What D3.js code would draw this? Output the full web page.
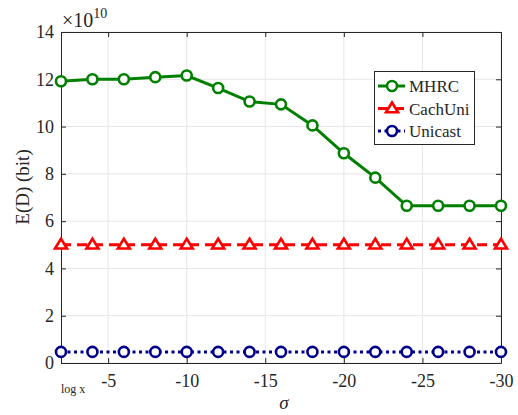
<!DOCTYPE html>
<html>
<head>
<meta charset="utf-8">
<script src="https://cdn.jsdelivr.net/npm/d3@7"></script>
</head>
<body style="margin:0;background:#fff">
<svg id="chart" width="518" height="415" font-family="Liberation Serif"></svg>
<script>
// sigma values (dB) and expected delay E(D) in units of 1e10 bit
const sigma = [-2, -4, -6, -8, -10, -12, -14, -16, -18, -20, -22, -24, -26, -28, -30];
const mhrc = [11.92, 12.0, 12.0, 12.09, 12.16, 11.63, 11.06, 10.94, 10.05, 8.87, 7.84, 6.65, 6.65, 6.65, 6.65];
const cachUni = [5.0, 5.0, 5.0, 5.0, 5.0, 5.0, 5.0, 5.0, 5.0, 5.0, 5.0, 5.0, 5.0, 5.0, 5.0];
const unicast = [0.47, 0.47, 0.47, 0.47, 0.47, 0.47, 0.47, 0.47, 0.47, 0.47, 0.47, 0.47, 0.47, 0.47, 0.47];
const xTicks = [-5, -10, -15, -20, -25, -30];
const yTicks = [0, 2, 4, 6, 8, 10, 12, 14];
const seriesNames = ["MHRC", "CachUni", "Unicast"];

const FONT = "'Liberation Serif', 'Times New Roman', serif";
const svg = d3.select("#chart");
const m = { left: 61, right: 501, top: 32, bottom: 363 };

const x = d3.scaleLinear().domain([-2, -30]).range([m.left, m.right]);
const y = d3.scaleLinear().domain([0, 14]).range([m.bottom, m.top]);

const axisColor = "#262626";
const gridColor = "#e6e6e6";

// set a serif face on any text node
function serif(sel, size) {
  return sel.attr("font-family", "Liberation Serif").attr("font-size", size)
    .style("font-family", FONT).style("font-size", size + "px");
}

// grid
const grid = svg.append("g");
grid.selectAll(".gx").data(xTicks).join("line")
  .attr("x1", d => x(d)).attr("x2", d => x(d))
  .attr("y1", m.top).attr("y2", m.bottom)
  .attr("stroke", gridColor).attr("stroke-width", 1);
grid.selectAll(".gy").data(yTicks).join("line")
  .attr("x1", m.left).attr("x2", m.right)
  .attr("y1", d => y(d)).attr("y2", d => y(d))
  .attr("stroke", gridColor).attr("stroke-width", 1);

// box axes with inward ticks
const tickLen = 5;
const fmt = d => String(d);
const bottomAxis = d3.axisBottom(x).tickValues(xTicks).tickSizeInner(-tickLen).tickSizeOuter(0).tickPadding(11).tickFormat(fmt);
const leftAxis = d3.axisLeft(y).tickValues(yTicks).tickSizeInner(-tickLen).tickSizeOuter(0).tickPadding(7).tickFormat(fmt);
const topAxis = d3.axisTop(x).tickValues(xTicks).tickSizeInner(-tickLen).tickSizeOuter(0).tickFormat("");
const rightAxis = d3.axisRight(y).tickValues(yTicks).tickSizeInner(-tickLen).tickSizeOuter(0).tickFormat("");

function styleAxis(g) {
  serif(g, 18);
  g.select(".domain").attr("stroke", axisColor).attr("stroke-width", 1);
  g.selectAll(".tick line").attr("stroke", axisColor);
  serif(g.selectAll(".tick text"), 18).attr("fill", axisColor);
}

svg.append("g").attr("transform", `translate(0,${m.bottom})`).call(bottomAxis).call(styleAxis);
svg.append("g").attr("transform", `translate(${m.left},0)`).call(leftAxis).call(styleAxis);
svg.append("g").attr("transform", `translate(0,${m.top})`).call(topAxis).call(styleAxis);
svg.append("g").attr("transform", `translate(${m.right},0)`).call(rightAxis).call(styleAxis);

// exponent label
const expo = serif(svg.append("text"), 20).attr("x", 62).attr("y", 27).attr("fill", axisColor);
expo.append("tspan").text("\u00d710");
expo.append("tspan").attr("dy", -9).style("font-size", "14px").text("10");

// small note under the left end of the x axis
serif(svg.append("text"), 12).attr("x", 61).attr("y", 393).attr("fill", axisColor).text("log x");

// axis titles
serif(svg.append("text"), 19)
  .attr("transform", "translate(29,187) rotate(-90)")
  .attr("text-anchor", "middle").attr("fill", axisColor)
  .text("E(D) (bit)");
serif(svg.append("text"), 19)
  .attr("x", (m.left + m.right) / 2 + 3).attr("y", 409)
  .attr("text-anchor", "middle").attr("fill", axisColor)
  .style("font-style", "italic").text("\u03c3");

// series
const series = [
  { name: seriesNames[0], values: mhrc, color: "#008000", dash: null, marker: "circle" },
  { name: seriesNames[1], values: cachUni, color: "#ff0000", dash: "10,6", marker: "triangle" },
  { name: seriesNames[2], values: unicast, color: "#00008b", dash: "3,3.5", marker: "circle" }
];

const line = d3.line().x(d => x(d[0])).y(d => y(d[1]));
const lw = 3;

function drawMarker(g, type, cx, cy, color) {
  if (type === "circle") {
    g.append("circle").attr("cx", cx).attr("cy", cy).attr("r", 5)
      .attr("fill", "#fff").attr("stroke", color).attr("stroke-width", 2.6);
  } else {
    const s = 6;
    g.append("path")
      .attr("d", `M${cx},${cy - s} L${cx + s},${cy + s * 0.62} L${cx - s},${cy + s * 0.62} Z`)
      .attr("fill", "#fff").attr("stroke", color).attr("stroke-width", 2.6);
  }
}

const plot = svg.append("g");
series.forEach(s => {
  const pts = sigma.map((v, i) => [v, s.values[i]]);
  plot.append("path").attr("d", line(pts)).attr("fill", "none")
    .attr("stroke", s.color).attr("stroke-width", lw)
    .attr("stroke-dasharray", s.dash);
  pts.forEach(p => drawMarker(plot, s.marker, x(p[0]), y(p[1]), s.color));
});

// legend
const lg = svg.append("g");
lg.append("rect").attr("x", 374.5).attr("y", 71.5).attr("width", 100).attr("height", 73)
  .attr("fill", "#fff").attr("stroke", axisColor).attr("stroke-width", 1);
series.forEach((s, i) => {
  const ly = 86 + i * 22.5;
  lg.append("line").attr("x1", 378).attr("x2", 405).attr("y1", ly).attr("y2", ly)
    .attr("stroke", s.color).attr("stroke-width", lw).attr("stroke-dasharray", s.dash);
  drawMarker(lg, s.marker, 392, ly, s.color);
  serif(lg.append("text"), 17).attr("x", 409).attr("y", ly + 6).attr("fill", axisColor).text(s.name);
});
</script>
</body>
</html>
